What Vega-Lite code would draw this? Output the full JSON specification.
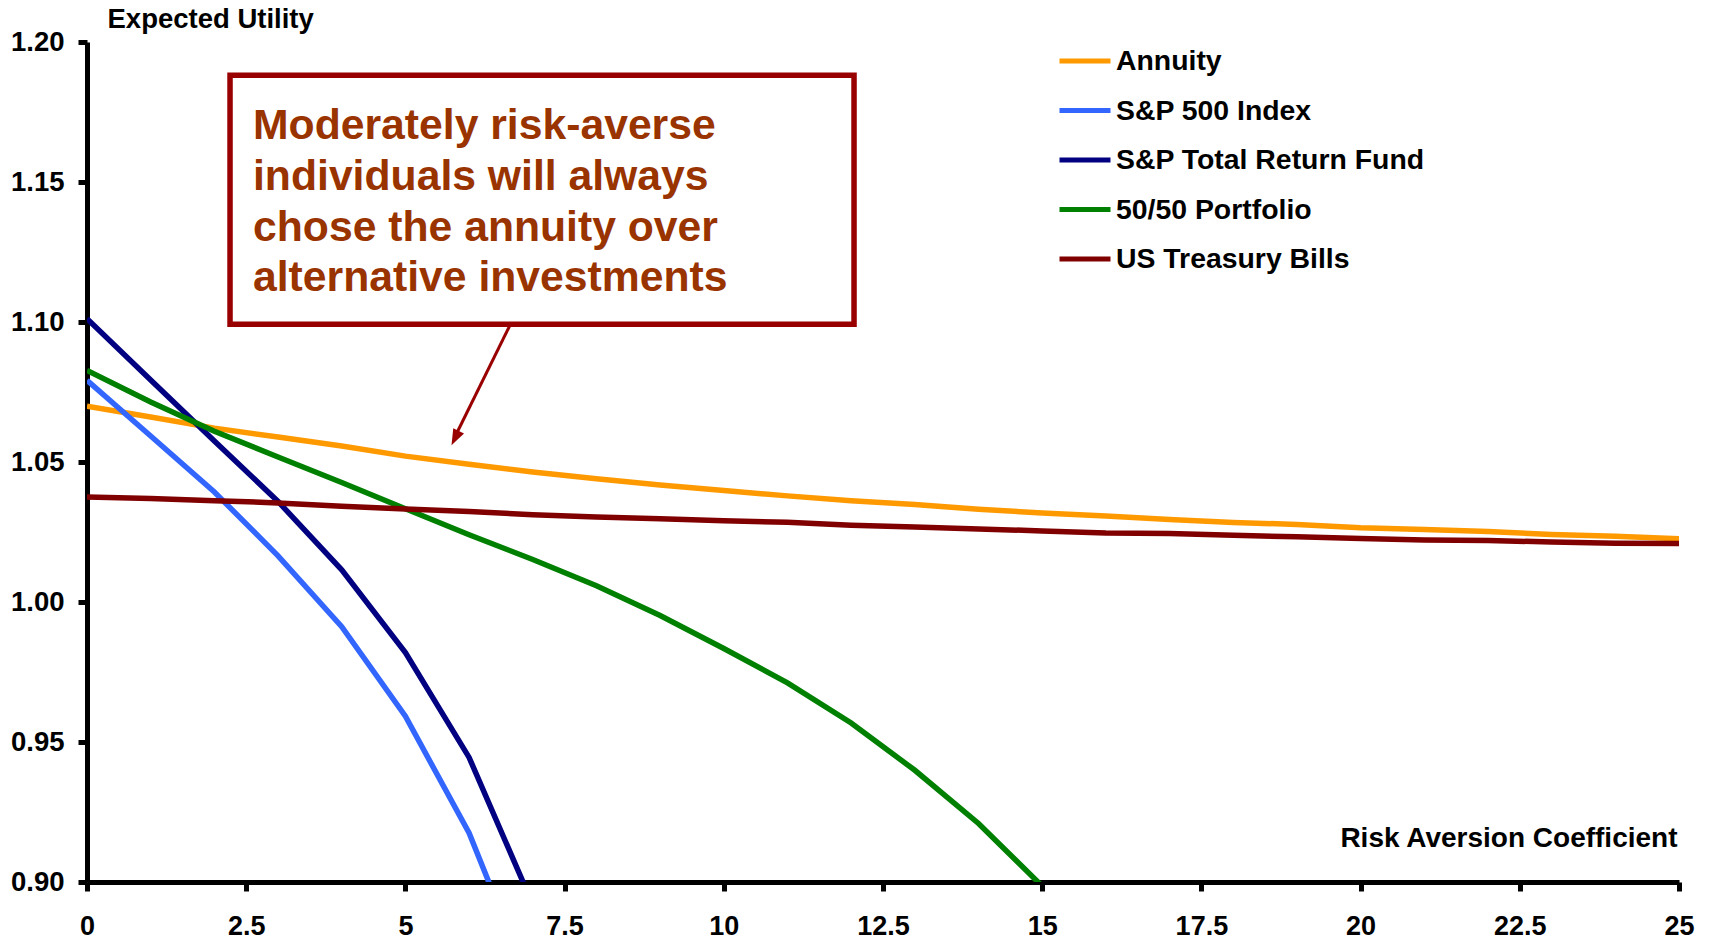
{
  "$schema": "https://vega.github.io/schema/vega-lite/v6.json",
  "width": 1592,
  "height": 840,
  "autosize": {"type": "none"},
  "padding": {"left": 87, "top": 42, "right": 32, "bottom": 57},
  "background": "white",
  "config": {"view": {"stroke": null}, "font": "Liberation Sans"},
  "data": {"values": [
    {"r":0,"series":"Annuity","eu":1.0699},{"r":1,"series":"Annuity","eu":1.0661},{"r":2,"series":"Annuity","eu":1.0621},{"r":3,"series":"Annuity","eu":1.0589},{"r":4,"series":"Annuity","eu":1.0557},{"r":5,"series":"Annuity","eu":1.0521},{"r":6,"series":"Annuity","eu":1.0492},{"r":7,"series":"Annuity","eu":1.0464},{"r":8,"series":"Annuity","eu":1.0440},{"r":9,"series":"Annuity","eu":1.0418},{"r":10,"series":"Annuity","eu":1.0398},{"r":11,"series":"Annuity","eu":1.0379},{"r":12,"series":"Annuity","eu":1.0362},{"r":13,"series":"Annuity","eu":1.0348},{"r":14,"series":"Annuity","eu":1.0331},{"r":15,"series":"Annuity","eu":1.0318},{"r":16,"series":"Annuity","eu":1.0307},{"r":17,"series":"Annuity","eu":1.0295},{"r":18,"series":"Annuity","eu":1.0284},{"r":19,"series":"Annuity","eu":1.0277},{"r":20,"series":"Annuity","eu":1.0265},{"r":21,"series":"Annuity","eu":1.0259},{"r":22,"series":"Annuity","eu":1.0252},{"r":23,"series":"Annuity","eu":1.0241},{"r":24,"series":"Annuity","eu":1.0235},{"r":25,"series":"Annuity","eu":1.0226},
    {"r":0,"series":"S&P 500 Index","eu":1.0792},{"r":1,"series":"S&P 500 Index","eu":1.0593},{"r":2,"series":"S&P 500 Index","eu":1.0393},{"r":3,"series":"S&P 500 Index","eu":1.0165},{"r":4,"series":"S&P 500 Index","eu":0.9912},{"r":5,"series":"S&P 500 Index","eu":0.9592},{"r":6,"series":"S&P 500 Index","eu":0.9175},{"r":7,"series":"S&P 500 Index","eu":0.861},
    {"r":0,"series":"S&P Total Return Fund","eu":1.1012},{"r":1,"series":"S&P Total Return Fund","eu":1.0793},{"r":2,"series":"S&P Total Return Fund","eu":1.0575},{"r":3,"series":"S&P Total Return Fund","eu":1.0359},{"r":4,"series":"S&P Total Return Fund","eu":1.0115},{"r":5,"series":"S&P Total Return Fund","eu":0.9819},{"r":6,"series":"S&P Total Return Fund","eu":0.9445},{"r":7,"series":"S&P Total Return Fund","eu":0.892},
    {"r":0,"series":"50/50 Portfolio","eu":1.0827},{"r":1,"series":"50/50 Portfolio","eu":1.0714},{"r":2,"series":"50/50 Portfolio","eu":1.0610},{"r":3,"series":"50/50 Portfolio","eu":1.0518},{"r":4,"series":"50/50 Portfolio","eu":1.0427},{"r":5,"series":"50/50 Portfolio","eu":1.0333},{"r":6,"series":"50/50 Portfolio","eu":1.0240},{"r":7,"series":"50/50 Portfolio","eu":1.0152},{"r":8,"series":"50/50 Portfolio","eu":1.0058},{"r":9,"series":"50/50 Portfolio","eu":0.9952},{"r":10,"series":"50/50 Portfolio","eu":0.9834},{"r":11,"series":"50/50 Portfolio","eu":0.9711},{"r":12,"series":"50/50 Portfolio","eu":0.9568},{"r":13,"series":"50/50 Portfolio","eu":0.9399},{"r":14,"series":"50/50 Portfolio","eu":0.9209},{"r":15,"series":"50/50 Portfolio","eu":0.8985},
    {"r":0,"series":"US Treasury Bills","eu":1.0375},{"r":1,"series":"US Treasury Bills","eu":1.0370},{"r":2,"series":"US Treasury Bills","eu":1.0362},{"r":3,"series":"US Treasury Bills","eu":1.0354},{"r":4,"series":"US Treasury Bills","eu":1.0342},{"r":5,"series":"US Treasury Bills","eu":1.0332},{"r":6,"series":"US Treasury Bills","eu":1.0323},{"r":7,"series":"US Treasury Bills","eu":1.0312},{"r":8,"series":"US Treasury Bills","eu":1.0304},{"r":9,"series":"US Treasury Bills","eu":1.0297},{"r":10,"series":"US Treasury Bills","eu":1.0290},{"r":11,"series":"US Treasury Bills","eu":1.0285},{"r":12,"series":"US Treasury Bills","eu":1.0274},{"r":13,"series":"US Treasury Bills","eu":1.0268},{"r":14,"series":"US Treasury Bills","eu":1.0261},{"r":15,"series":"US Treasury Bills","eu":1.0254},{"r":16,"series":"US Treasury Bills","eu":1.0246},{"r":17,"series":"US Treasury Bills","eu":1.0245},{"r":18,"series":"US Treasury Bills","eu":1.0238},{"r":19,"series":"US Treasury Bills","eu":1.0233},{"r":20,"series":"US Treasury Bills","eu":1.0227},{"r":21,"series":"US Treasury Bills","eu":1.0221},{"r":22,"series":"US Treasury Bills","eu":1.0220},{"r":23,"series":"US Treasury Bills","eu":1.0214},{"r":24,"series":"US Treasury Bills","eu":1.0210},{"r":25,"series":"US Treasury Bills","eu":1.0209}
  ]},
  "layer": [
    {
      "mark": {"type": "line", "strokeWidth": 5.5, "clip": true},
      "encoding": {
        "x": {
          "field": "r", "type": "quantitative",
          "scale": {"domain": [0, 25], "nice": false, "zero": false},
          "axis": {
            "values": [0, 2.5, 5, 7.5, 10, 12.5, 15, 17.5, 20, 22.5, 25],
            "labelExpr": "'' + datum.value",
            "grid": false,
            "domainColor": "black", "domainWidth": 5,
            "tickColor": "black", "tickWidth": 5, "tickSize": 9,
            "labelFont": "'Liberation Sans Narrow', 'Liberation Sans'",
            "labelFontSize": 27, "labelFontWeight": "bold", "labelColor": "black",
            "labelPadding": 22, "labelFlush": false, "labelOverlap": false,
            "title": "Risk Aversion Coefficient",
            "titleFont": "Liberation Sans", "titleFontSize": 28, "titleFontWeight": "bold", "titleColor": "black",
            "titleAnchor": null, "titleAlign": "right", "titleBaseline": "alphabetic",
            "titleX": 1590, "titleY": -36
          }
        },
        "y": {
          "field": "eu", "type": "quantitative",
          "scale": {"domain": [0.9, 1.2], "nice": false, "zero": false},
          "axis": {
            "values": [0.9, 0.95, 1.0, 1.05, 1.1, 1.15, 1.2],
            "format": ".2f",
            "grid": false,
            "domainColor": "black", "domainWidth": 5,
            "tickColor": "black", "tickWidth": 5, "tickSize": 9,
            "labelFont": "Liberation Sans",
            "labelFontSize": 27.5, "labelFontWeight": "bold", "labelColor": "black",
            "labelPadding": 14, "labelFlush": false, "labelOverlap": false,
            "title": "Expected Utility",
            "titleFont": "Liberation Sans", "titleFontSize": 27.5, "titleFontWeight": "bold", "titleColor": "black",
            "titleAngle": 0, "titleAnchor": null, "titleAlign": "left", "titleBaseline": "alphabetic",
            "titleX": 20, "titleY": -15
          }
        },
        "color": {
          "field": "series", "type": "nominal",
          "scale": {
            "domain": ["Annuity", "S&P 500 Index", "S&P Total Return Fund", "50/50 Portfolio", "US Treasury Bills"],
            "range": ["#FF9900", "#3366FF", "#000080", "#008000", "#800000"]
          },
          "legend": {
            "title": null, "orient": "none", "legendX": 970, "legendY": -9,
            "symbolType": "stroke", "symbolSize": 2601, "symbolStrokeWidth": 5,
            "labelFont": "Liberation Sans", "labelFontSize": 28.4, "labelFontWeight": "bold", "labelColor": "black",
            "labelOffset": 3, "rowPadding": 6.5, "padding": 0, "labelLimit": 0
          }
        }
      }
    },
    {
      "data": {"values": [{}]},
      "mark": {"type": "rect", "fill": "white", "stroke": "#990000", "strokeWidth": 5.5},
      "encoding": {
        "x": {"datum": 2.246}, "x2": {"datum": 12.045},
        "y": {"datum": 1.1881}, "y2": {"datum": 1.0992}
      }
    },
    {
      "data": {"values": [{}]},
      "mark": {
        "type": "text", "align": "left", "baseline": "alphabetic",
        "font": "Liberation Sans", "fontSize": 42.7, "fontWeight": "bold", "color": "#993300",
        "lineHeight": 50.7,
        "text": ["Moderately risk-averse", "individuals will always", "chose the annuity over", "alternative investments"]
      },
      "encoding": {"x": {"datum": 2.607}, "y": {"datum": 1.16525}}
    },
    {
      "data": {"values": [{}]},
      "mark": {"type": "rule", "color": "#990000", "strokeWidth": 3},
      "encoding": {
        "x": {"datum": 6.65}, "y": {"datum": 1.0992},
        "x2": {"datum": 5.80}, "y2": {"datum": 1.0600}
      }
    },
    {
      "data": {"values": [{}]},
      "mark": {"type": "point", "shape": "M0,0L-0.375,-1L0.375,-1Z", "filled": true, "color": "#990000", "opacity": 1, "size": 1024, "angle": 26.5},
      "encoding": {"x": {"datum": 5.724}, "y": {"datum": 1.0560}}
    }
  ]
}
